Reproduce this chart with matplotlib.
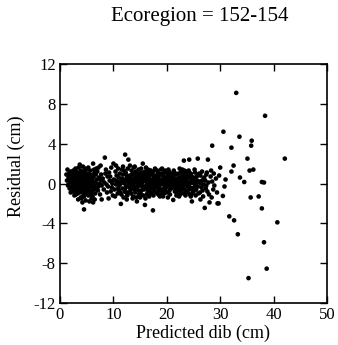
import matplotlib
matplotlib.use("Agg")
import matplotlib.pyplot as plt

TITLE = "Ecoregion = 152-154"
X_LABEL = "Predicted dib (cm)"
Y_LABEL = "Residual (cm)"
X_TICKS = [0, 10, 20, 30, 40, 50]
Y_TICKS = [-12, -8, -4, 0, 4, 8, 12]

# dense band of residuals (predicted dib, residual)
cloud_points = [
    (1.2, 0.9), (1.3, 0.3), (1.4, 1.4), (1.5, -0.2), (1.6, 0.6), (1.7, 1.0), (1.8, -0.5), (1.9, 0.2),
    (2.0, 1.2), (2.0, -0.9), (1.6, -0.1), (1.9, 0.7),
    (2.1, 0.4), (2.2, -0.3), (2.3, 1.1), (2.4, 0.0), (2.5, -0.8), (2.6, 0.7), (2.7, -1.2), (2.8, 0.3),
    (2.9, 1.5), (2.2, 0.9), (2.4, -0.6), (2.6, -0.1), (2.8, -0.9), (3.0, 0.5), (2.3, 0.2), (2.5, 1.3),
    (2.7, 0.8), (2.9, -0.4), (2.1, -0.5), (2.6, 0.2),
    (3.1, -0.2), (3.2, 0.9), (3.3, -1.0), (3.4, 0.4), (3.5, 1.6), (3.6, -0.6), (3.7, 1.9), (3.8, 0.1),
    (3.9, -1.4), (3.1, 1.2), (3.3, 0.6), (3.5, -0.3), (3.7, -0.9), (3.9, 0.8), (3.2, -0.7), (3.4, -1.6),
    (3.6, 1.0), (3.8, -0.4), (3.0, -1.1), (3.5, 0.2), (3.9, 1.3), (3.3, 0.0), (3.7, 0.5),
    (4.0, 0.3), (4.1, -0.8), (4.2, 1.1), (4.3, -1.3), (4.4, 0.6), (4.5, -2.6), (4.6, -0.1), (4.7, 1.5),
    (4.8, -1.7), (4.9, 0.9), (4.1, 0.0), (4.3, 1.7), (4.5, -0.5), (4.7, 0.2), (4.9, -1.0), (4.2, -1.9),
    (4.4, -0.3), (4.6, 1.2), (4.8, 0.4), (4.0, -1.5), (4.5, 0.7), (4.9, -0.2), (4.3, 0.4), (4.7, -0.7),
    (5.0, 1.4), (5.1, -0.4), (5.2, 0.5), (5.3, -1.2), (5.4, 1.0), (5.5, -1.8), (5.6, 0.1), (5.7, -0.7),
    (5.8, 0.8), (5.9, -1.5), (5.1, 0.9), (5.3, 0.2), (5.5, -0.2), (5.7, 1.3), (5.9, 0.3), (5.2, -0.9),
    (5.4, -0.5), (5.6, 0.6), (5.8, -1.1), (5.0, -0.6), (5.5, 0.4), (5.3, 1.6), (5.8, -0.3),
    (6.0, 0.2), (6.1, -1.3), (6.2, 2.0), (6.2, -1.9), (6.3, 0.7), (6.4, -0.6), (6.5, 1.1), (6.6, -1.0),
    (6.7, 0.0), (6.8, 1.5), (6.9, -0.4), (6.1, 0.5), (6.3, -0.2), (6.5, -1.6), (6.7, 0.9), (6.9, 0.4),
    (6.4, 1.4), (6.6, 0.1), (6.0, -0.8),
    (7.0, 1.2), (7.2, -0.3), (7.3, 0.6), (7.5, -1.1), (7.6, 1.8), (7.8, -1.6), (7.9, 0.3), (7.1, -0.7),
    (7.4, 0.0), (7.7, 0.9), (7.2, 1.6), (7.8, -0.2),
    (8.0, 0.5), (8.2, -0.6), (8.4, 2.6), (8.5, 1.0), (8.7, -0.1), (8.9, 0.7), (8.3, 0.1), (8.8, -0.9),
    (8.6, 1.4),
    (9.0, -0.3), (9.2, 1.1), (9.3, 0.3), (9.5, -0.8), (9.6, 1.6), (9.8, 0.0), (9.9, -1.2), (9.4, 0.7),
    (9.7, -0.4), (9.1, -1.5),
    (10.0, 2.0), (10.1, 0.4), (10.2, -0.6), (10.4, 1.2), (10.5, -0.1), (10.6, 0.8), (10.8, -1.0),
    (10.9, 1.5), (10.3, -1.3), (10.7, 0.2), (10.9, -0.5), (10.5, 1.8),
    (11.0, 0.6), (11.1, -0.2), (11.2, 1.0), (11.3, -0.9), (11.4, -2.05), (11.5, 0.3), (11.6, 1.4),
    (11.7, -0.5), (11.8, 0.9), (11.9, -1.4), (11.2, 0.1), (11.5, -1.1), (11.8, 1.7), (11.0, -0.7),
    (11.6, 0.5),
    (12.0, 0.2), (12.1, -0.8), (12.2, 2.9), (12.3, 1.1), (12.4, -0.3), (12.5, 0.6), (12.6, -1.2),
    (12.7, 1.5), (12.8, 2.4), (12.9, 0.0), (12.2, -0.5), (12.4, 0.9), (12.6, 0.3), (12.8, -0.9),
    (12.0, 1.3), (12.5, -1.6), (12.9, 0.7), (12.3, 0.4),
    (13.0, -0.4), (13.1, 0.8), (13.2, 0.1), (13.3, -1.0), (13.4, 1.3), (13.5, -0.2), (13.6, 0.5),
    (13.7, -1.3), (13.8, 1.0), (13.9, -0.6), (13.1, 1.8), (13.3, 0.4), (13.5, 0.9), (13.7, 0.0),
    (13.9, 0.3), (13.2, -0.7), (13.6, -1.5), (13.8, 1.6), (13.0, 0.6),
    (14.0, 0.1), (14.1, -0.9), (14.2, 1.2), (14.3, 0.5), (14.4, -1.8), (14.5, 0.8), (14.6, -0.3),
    (14.7, 1.4), (14.8, -1.1), (14.9, 0.2), (14.2, -0.4), (14.4, 0.9), (14.6, 0.0), (14.8, 1.0),
    (14.1, 0.6), (14.3, -1.4), (14.5, -0.6), (14.7, 0.3), (14.9, -0.8), (14.0, 1.7),
    (15.0, -0.1), (15.1, 0.7), (15.2, -0.7), (15.3, 1.1), (15.4, 0.2), (15.5, 2.0), (15.6, -1.2),
    (15.7, 0.5), (15.8, -0.4), (15.9, -2.15), (15.1, -1.0), (15.3, 0.0), (15.5, 0.9), (15.7, -0.6),
    (15.9, 1.2), (15.2, 1.5), (15.4, -0.3), (15.6, 0.4), (15.8, 0.8), (15.0, -1.4),
    (16.0, 0.6), (16.1, -0.5), (16.2, 1.0), (16.3, -1.1), (16.4, 0.3), (16.5, 1.4), (16.6, -0.2),
    (16.7, 0.8), (16.8, -0.8), (16.9, 0.1), (16.1, 1.6), (16.3, 0.4), (16.5, -0.6), (16.7, -1.3),
    (16.9, 1.1), (16.2, -0.1), (16.4, -0.9), (16.6, 0.5), (16.8, 1.3), (16.0, -1.5),
    (17.0, 0.2), (17.1, -1.0), (17.2, 0.9), (17.3, -0.3), (17.4, -2.7), (17.4, 1.2), (17.5, 0.0),
    (17.6, -0.7), (17.7, 0.6), (17.8, 1.5), (17.9, -0.4), (17.1, 0.4), (17.3, 1.0), (17.5, -1.2),
    (17.7, -0.1), (17.9, 0.8), (17.2, -0.5), (17.6, 0.3), (17.8, -0.9), (17.0, 1.3),
    (18.0, -0.2), (18.1, 0.5), (18.2, -0.9), (18.3, 1.1), (18.4, 0.1), (18.5, -0.6), (18.6, 0.8),
    (18.7, -1.3), (18.8, 0.3), (18.9, 1.4), (18.1, -0.4), (18.3, 0.6), (18.5, 1.0), (18.7, 0.0),
    (18.9, -0.7), (18.2, 1.3), (18.4, -1.1), (18.6, -0.3), (18.8, 0.9), (18.0, 0.7),
    (19.0, 0.4), (19.1, -0.6), (19.2, 1.0), (19.3, -0.1), (19.4, 0.7), (19.5, -1.0), (19.6, 0.2),
    (19.7, 1.3), (19.8, -0.4), (19.9, 0.6), (19.1, 1.5), (19.3, -1.3), (19.5, 0.5), (19.7, -0.7),
    (19.9, -0.2), (19.2, 0.0), (19.4, -0.8), (19.6, 1.1), (19.8, 0.3), (19.0, -1.1),
    (20.0, 0.1), (20.1, -0.9), (20.2, 0.8), (20.3, -0.3), (20.4, 1.2), (20.5, 0.4), (20.6, -1.1),
    (20.7, 0.6), (20.8, -0.5), (20.9, 1.0), (20.1, 0.3), (20.3, 1.4), (20.5, -0.7), (20.7, -0.1),
    (20.9, 0.2), (20.2, -1.4), (20.4, -0.2), (20.6, 0.9), (20.8, 0.5), (20.0, 1.1),
    (21.0, -0.4), (21.1, 0.7), (21.2, -1.65), (21.3, 0.2), (21.4, 1.1), (21.5, -0.8), (21.6, 0.4),
    (21.7, -0.2), (21.8, 0.9), (21.9, -1.0), (21.1, -0.1), (21.3, 1.3), (21.5, 0.5), (21.7, -0.6),
    (21.9, 0.3), (21.2, 0.8), (21.4, -0.3), (21.6, 1.0), (21.8, -1.2), (21.0, 0.6),
    (22.0, 0.3), (22.1, -0.7), (22.2, 1.0), (22.3, -0.1), (22.4, 0.6), (22.5, -1.1), (22.6, 0.2),
    (22.7, 1.2), (22.8, -0.5), (22.9, 0.8), (22.1, 0.5), (22.3, -1.3), (22.5, 0.0), (22.7, -0.3),
    (22.9, 1.4), (22.2, -0.4), (22.4, 1.5), (22.6, -0.8), (22.8, 0.4), (22.0, -0.9),
    (23.0, 0.0), (23.1, 0.9), (23.2, 2.3), (23.3, -0.6), (23.4, 0.4), (23.5, -1.2), (23.6, 1.1),
    (23.7, -0.2), (23.8, 0.6), (23.9, -0.9), (23.1, -0.4), (23.3, 1.3), (23.5, 0.3), (23.7, 0.8),
    (23.9, 0.1), (23.2, -1.0), (23.4, -0.1), (23.6, -0.7), (23.8, 1.2), (23.0, 0.5),
    (24.0, -0.3), (24.1, 0.6), (24.2, 2.4), (24.3, -1.1), (24.4, 0.2), (24.5, 1.0), (24.6, -0.5),
    (24.7, -1.8), (24.8, 0.4), (24.9, -0.8), (24.1, 1.3), (24.3, 0.0), (24.5, -1.3), (24.7, 0.7),
    (24.9, 0.3), (24.2, -0.6), (24.4, 0.9), (24.6, 0.1), (24.8, -1.0),
    (25.0, 0.4), (25.2, -0.7), (25.3, 1.1), (25.5, -0.2), (25.6, 0.7), (25.8, 2.5), (25.9, -1.0),
    (25.1, 0.0), (25.4, -1.2), (25.7, 0.3), (25.9, 0.9), (25.2, 1.4), (25.5, -0.6), (25.8, -0.3),
    (26.0, 0.2), (26.2, -0.9), (26.3, 0.8), (26.5, -0.4), (26.6, 1.2), (26.8, -1.3), (26.9, 0.5),
    (26.1, 1.0), (26.4, 0.0), (26.7, -0.7), (26.9, -0.1), (26.3, -1.6),
    (27.0, 0.6), (27.1, -2.45), (27.3, -0.5), (27.5, 1.1), (27.7, 2.4), (27.8, 0.1), (27.9, -1.1),
    (27.2, 0.3), (27.6, -0.8), (27.4, 0.9),
    (28.0, -1.9), (28.2, 0.7), (28.4, -1.4), (28.5, 0.2), (28.7, -0.6), (28.8, 1.0), (28.3, 1.3),
    (28.9, -0.2),
    (29.2, 0.5), (29.5, -2.0), (29.7, -2.0), (29.4, -0.9), (29.8, 0.8),
]

# extra points where the band is solid black
core_points = [
    (2.2, 0.6), (2.5, 0.1), (2.8, -0.2), (3.0, 0.9), (3.2, 0.3), (3.4, -0.4), (3.6, 0.7), (3.8, -0.1),
    (4.0, -0.6), (4.2, 0.2), (4.4, -1.0), (4.6, 0.5), (4.8, -0.4), (5.0, 0.1), (5.2, -0.3), (5.4, 0.6),
    (5.6, -0.9), (5.8, 0.2), (6.0, -0.3), (6.2, 0.9), (6.4, 0.1), (6.6, -0.5), (3.1, -0.6), (3.5, 1.0),
    (4.1, 0.8), (4.5, -1.3), (4.9, 0.5), (5.3, -0.6), (5.7, 0.3), (6.1, 0.0), (2.7, 0.3), (3.9, -0.8),
    (12.1, 0.0), (12.7, 0.4), (13.2, 0.5), (13.6, -0.1), (14.1, -0.3), (14.6, 0.5), (15.1, 0.2),
    (15.6, -0.3), (16.1, 0.2), (16.6, 0.9), (17.1, -0.2), (17.6, 0.7), (18.1, 0.1), (18.6, -0.7),
    (19.1, 0.2), (19.6, -0.4), (20.1, -0.3), (20.6, 0.2), (21.1, 0.3), (21.6, -0.5), (22.1, 0.1),
    (22.6, 0.6), (23.1, 0.2), (23.6, 0.3), (24.1, -0.2), (24.6, 0.5), (25.1, -0.4), (25.6, 0.1),
    (12.4, -0.9), (13.4, -0.4), (14.4, 0.3), (15.4, 0.6), (16.4, -0.4), (17.4, 0.4), (18.4, 0.5),
    (19.4, 0.1), (20.4, 0.6), (21.4, 0.1), (22.4, -0.6), (23.4, 0.8), (24.4, -0.4), (25.4, 0.6),
    (10.4, 0.3), (11.4, 0.0), (9.6, 0.2), (7.6, 0.4), (26.6, 0.3), (27.4, -0.2),
]

# scattered points for the big trees
outlier_points = [
    (33.0, 9.1), (38.4, 6.8), (30.6, 5.2), (33.6, 4.7), (35.9, 4.3), (35.8, 3.8), (28.5, 3.8),
    (32.1, 3.6), (42.1, 2.5), (35.1, 2.5), (32.5, 1.8), (30.0, 1.6), (35.5, 1.3), (36.2, 1.4),
    (32.1, 1.2), (33.7, 0.6), (34.5, 0.15), (37.8, 0.15), (38.2, 0.1), (30.8, -0.3), (31.0, 0.4),
    (30.5, -1.25), (35.7, -1.4), (37.2, -1.3), (37.8, -2.5), (31.7, -3.3), (32.6, -3.7),
    (40.7, -3.9), (33.3, -5.1), (38.2, -5.9), (38.7, -8.55), (35.3, -9.5),
]

plt.rcParams["font.family"] = ["Liberation Serif", "DejaVu Serif"]
plt.rcParams["axes.unicode_minus"] = False

fig = plt.figure(figsize=(3.38, 3.45), dpi=100)
ax = fig.add_axes([0.1775, 0.1217, 0.79, 0.6928])

all_points = cloud_points + core_points + outlier_points
xs = [p[0] for p in all_points]
ys = [p[1] for p in all_points]
ax.scatter(xs, ys, s=11, c="black", edgecolors="none")

ax.set_xlim(0, 50)
ax.set_ylim(-12, 12)
ax.set_xticks(X_TICKS)
ax.set_yticks(Y_TICKS)
ax.tick_params(direction="in", top=True, right=True, length=5, width=1, labelsize=12, pad=3)
for s in ax.spines.values():
    s.set_linewidth(1.2)

ax.set_xlabel(X_LABEL, fontsize=13)
ax.set_ylabel(Y_LABEL, fontsize=13)
# labels sit a bit off-centre in the original
ax.xaxis.set_label_coords((203 - 60) / 267, -0.092)
ax.yaxis.set_label_coords(-0.13, (303 - 166) / 239)
fig.text(200 / 338, 1 - 17 / 345, TITLE, ha="center", va="center", fontsize=15)

plt.savefig("out.png", dpi=100)
